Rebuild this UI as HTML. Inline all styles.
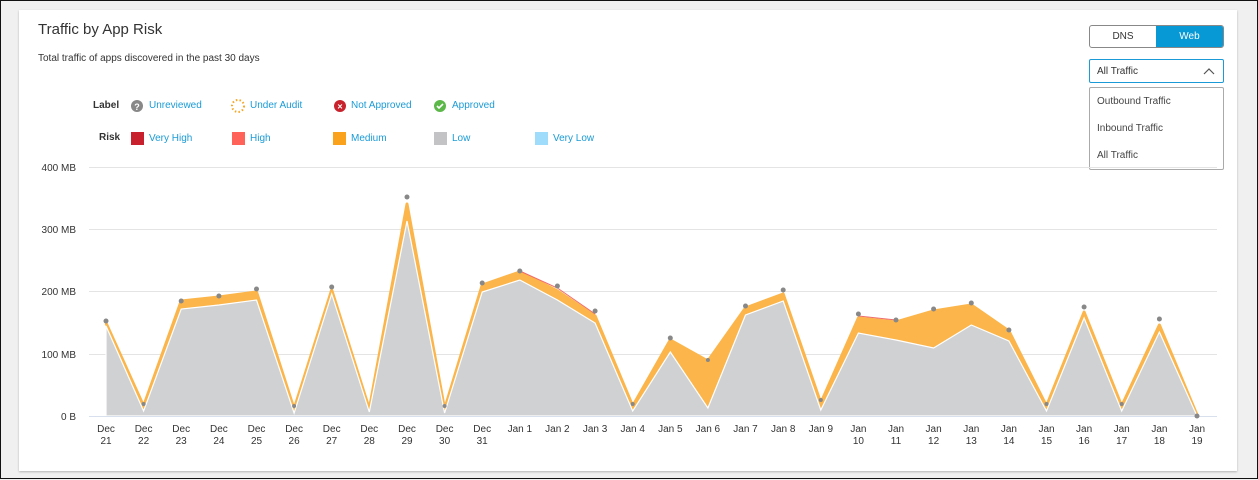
<!DOCTYPE html>
<html><head><meta charset="utf-8"><style>
body{margin:0;width:1258px;height:479px;background:#f0f0f0;font-family:"Liberation Sans",sans-serif;position:relative;overflow:hidden;border:1px solid #111;box-sizing:border-box}
.card{position:absolute;left:18px;top:9px;width:1218px;height:461px;background:#fff;box-shadow:0 1px 2px rgba(0,0,0,.25)}
.t{position:absolute;left:37px;top:20px;font-size:15px;color:#333}
.s{position:absolute;left:37px;top:52px;font-size:10px;color:#333}
.lg{position:absolute;font-size:10px;color:#1a9bd7}
.lb{position:absolute;font-size:10px;font-weight:bold;color:#333}
.sw{position:absolute;width:13px;height:13px}
.tog{position:absolute;left:1088px;top:24px;width:133px;height:21px;border:1px solid #888;border-radius:3px;overflow:hidden;font-size:10px}
.tog div{position:absolute;top:0;height:21px;line-height:21px;text-align:center}
.sel{position:absolute;left:1088px;top:58px;width:133px;height:22px;border:1px solid #1a9bd7;border-radius:2px;font-size:10px;color:#333}
.dd{position:absolute;left:1088px;top:86px;width:133px;height:81px;border:1px solid #aaa;border-radius:2px;background:#fff;font-size:10px;color:#444}
.dd div{position:absolute;left:7px}
</style></head><body>
<div class="card"></div>
<div class="t">Traffic by App Risk</div>
<div class="s">Total traffic of apps discovered in the past 30 days</div>
<div class="lb" style="left:92px;top:99px">Label</div>
<div class="lb" style="left:98px;top:131px">Risk</div>
<svg style="position:absolute;left:0;top:0" width="1258" height="479">
<circle cx="136" cy="105" r="6" fill="#888"/><text x="136" y="109" font-size="9" fill="#fff" text-anchor="middle" font-weight="bold" font-family="Liberation Sans">?</text>
<circle cx="237" cy="105" r="6" fill="none" stroke="#f5a623" stroke-width="2" stroke-dasharray="1.5 2.2"/>
<circle cx="339" cy="105" r="6" fill="#c8232c"/><text x="339" y="108.5" font-size="9" fill="#fff" text-anchor="middle" font-weight="bold" font-family="Liberation Sans">×</text>
<circle cx="439" cy="105" r="6" fill="#5db84a"/><path d="M436 105l2 2 4-4" stroke="#fff" stroke-width="1.6" fill="none"/>
</svg>
<div class="lg" style="left:148px;top:99px">Unreviewed</div>
<div class="lg" style="left:249px;top:99px">Under Audit</div>
<div class="lg" style="left:350px;top:99px">Not Approved</div>
<div class="lg" style="left:451px;top:99px">Approved</div>
<div class="sw" style="left:130px;top:131px;background:#c8202c"></div><div class="lg" style="left:148px;top:132px">Very High</div>
<div class="sw" style="left:231px;top:131px;background:#fe6259"></div><div class="lg" style="left:249px;top:132px">High</div>
<div class="sw" style="left:332px;top:131px;background:#fba21c"></div><div class="lg" style="left:350px;top:132px">Medium</div>
<div class="sw" style="left:433px;top:131px;background:#c3c3c6"></div><div class="lg" style="left:451px;top:132px">Low</div>
<div class="sw" style="left:534px;top:131px;background:#9fdcfb"></div><div class="lg" style="left:552px;top:132px">Very Low</div>

<div class="tog"><div style="left:0;width:66px;color:#333">DNS</div><div style="left:66px;width:67px;background:#0798d6;color:#fff">Web</div></div>
<div class="sel"><span style="position:absolute;left:7px;top:6px">All Traffic</span>
<svg style="position:absolute;right:8px;top:7px" width="12" height="8"><path d="M1 7l5-5 5 5" stroke="#555" fill="none" stroke-width="1.2"/></svg></div>
<div class="dd"><div style="top:8px">Outbound Traffic</div><div style="top:35px">Inbound Traffic</div><div style="top:62px">All Traffic</div></div>

<svg style="position:absolute;left:0;top:0" width="1258" height="479" font-family="Liberation Sans" font-size="10" fill="#333">
<g stroke="#e4e4e4" stroke-width="1">
<line x1="88" y1="166.5" x2="1216" y2="166.5"/><line x1="88" y1="228.5" x2="1216" y2="228.5"/><line x1="88" y1="290.5" x2="1216" y2="290.5"/><line x1="88" y1="353.5" x2="1216" y2="353.5"/>
</g>
<g text-anchor="end"><text x="75" y="170">400 MB</text><text x="75" y="232">300 MB</text><text x="75" y="294">200 MB</text><text x="75" y="357">100 MB</text><text x="75" y="419">0 B</text></g>
<polygon fill="#fbb54a" points="105,415 105,322 142.6,405 180.2,300 217.9,296 255.5,291 293.1,408 330.7,289 368.3,408 406,203 443.6,408 481.2,284 518.8,271 556.4,290 594.1,315 631.7,405 669.3,339 706.9,360 744.5,307 782.2,293 819.8,402 857.4,317 895,321 932.6,310 970.3,304 1007.9,330 1045.5,405 1083.1,311 1120.7,405 1158.4,324 1196,414 1196,415"/>
<polyline fill="none" stroke="#fbb54a" stroke-width="3" stroke-linejoin="round" points="105,322 142.6,405 180.2,300 217.9,296 255.5,291 293.1,408 330.7,289 368.3,408 406,203 443.6,408 481.2,284 518.8,271 556.4,290 594.1,315 631.7,405 669.3,339 706.9,360 744.5,307 782.2,293 819.8,402 857.4,317 895,321 932.6,310 970.3,304 1007.9,330 1045.5,405 1083.1,311 1120.7,405 1158.4,324 1196,414"/>
<polyline fill="none" stroke="#f06a6a" stroke-width="1" points="518.8,270 556.4,287 594.1,313"/>
<polyline fill="none" stroke="#f06a6a" stroke-width="1" points="857.4,315 895,319"/>
<polygon fill="#d0d1d3" stroke="#fff" stroke-width="1.2" points="105,415 105,325 142.6,410 180.2,308 217.9,304 255.5,299 293.1,412 330.7,293 368.3,411 406,220 443.6,412 481.2,291 518.8,279 556.4,299 594.1,322 631.7,410 669.3,351 706.9,407 744.5,314 782.2,300 819.8,409 857.4,332 895,339 932.6,347 970.3,324 1007.9,340 1045.5,410 1083.1,317 1120.7,410 1158.4,331 1196,415"/>
<line x1="88" y1="415.5" x2="1216" y2="415.5" stroke="#d8e0ee"/>
<g fill="#888">
<circle cx="105" cy="320" r="2.5"/><circle cx="142.6" cy="403" r="2"/><circle cx="180.2" cy="300" r="2.5"/><circle cx="217.9" cy="295" r="2.5"/><circle cx="255.5" cy="288" r="2.5"/><circle cx="293.1" cy="405" r="2"/><circle cx="330.7" cy="286" r="2.5"/><circle cx="406" cy="196" r="2.5"/><circle cx="443.6" cy="405" r="2"/><circle cx="481.2" cy="282" r="2.5"/><circle cx="518.8" cy="270" r="2.5"/><circle cx="556.4" cy="285" r="2.5"/><circle cx="594.1" cy="310" r="2.5"/><circle cx="631.7" cy="403" r="2"/><circle cx="669.3" cy="337" r="2.5"/><circle cx="706.9" cy="359" r="2"/><circle cx="744.5" cy="305" r="2.5"/><circle cx="782.2" cy="289" r="2.5"/><circle cx="819.8" cy="399" r="2"/><circle cx="857.4" cy="313" r="2.5"/><circle cx="895" cy="319" r="2.5"/><circle cx="932.6" cy="308" r="2.5"/><circle cx="970.3" cy="302" r="2.5"/><circle cx="1007.9" cy="329" r="2.5"/><circle cx="1045.5" cy="403" r="2"/><circle cx="1083.1" cy="306" r="2.5"/><circle cx="1120.7" cy="403" r="2"/><circle cx="1158.4" cy="318" r="2.5"/><circle cx="1196" cy="415" r="2.5"/>
</g>
<g text-anchor="middle">
<text x="105" y="431">Dec</text><text x="105" y="443">21</text>
<text x="142.6" y="431">Dec</text><text x="142.6" y="443">22</text>
<text x="180.2" y="431">Dec</text><text x="180.2" y="443">23</text>
<text x="217.9" y="431">Dec</text><text x="217.9" y="443">24</text>
<text x="255.5" y="431">Dec</text><text x="255.5" y="443">25</text>
<text x="293.1" y="431">Dec</text><text x="293.1" y="443">26</text>
<text x="330.7" y="431">Dec</text><text x="330.7" y="443">27</text>
<text x="368.3" y="431">Dec</text><text x="368.3" y="443">28</text>
<text x="406" y="431">Dec</text><text x="406" y="443">29</text>
<text x="443.6" y="431">Dec</text><text x="443.6" y="443">30</text>
<text x="481.2" y="431">Dec</text><text x="481.2" y="443">31</text>
<text x="518.8" y="431">Jan 1</text><text x="556.4" y="431">Jan 2</text><text x="594.1" y="431">Jan 3</text><text x="631.7" y="431">Jan 4</text><text x="669.3" y="431">Jan 5</text><text x="706.9" y="431">Jan 6</text><text x="744.5" y="431">Jan 7</text><text x="782.2" y="431">Jan 8</text><text x="819.8" y="431">Jan 9</text>
<text x="857.4" y="431">Jan</text><text x="857.4" y="443">10</text>
<text x="895" y="431">Jan</text><text x="895" y="443">11</text>
<text x="932.6" y="431">Jan</text><text x="932.6" y="443">12</text>
<text x="970.3" y="431">Jan</text><text x="970.3" y="443">13</text>
<text x="1007.9" y="431">Jan</text><text x="1007.9" y="443">14</text>
<text x="1045.5" y="431">Jan</text><text x="1045.5" y="443">15</text>
<text x="1083.1" y="431">Jan</text><text x="1083.1" y="443">16</text>
<text x="1120.7" y="431">Jan</text><text x="1120.7" y="443">17</text>
<text x="1158.4" y="431">Jan</text><text x="1158.4" y="443">18</text>
<text x="1196" y="431">Jan</text><text x="1196" y="443">19</text>
</g>
</svg>
</body></html>
